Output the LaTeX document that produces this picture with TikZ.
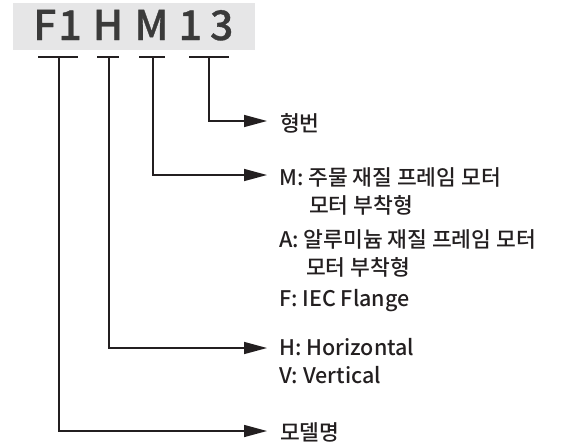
\documentclass[tikz,border=0pt]{standalone}
\usepackage{fontspec}
\setmainfont{Noto Sans CJK KR}
\newfontfamily\hdrfont{Noto Sans CJK KR Medium}[FakeBold=0.8]
\newfontfamily\bodyfont{Noto Sans CJK KR Medium}
\usetikzlibrary{arrows.meta}
\definecolor{boxgray}{HTML}{E6E6E7}
\definecolor{hdrgray}{HTML}{3A3A3A}
\definecolor{ink}{HTML}{231F20}
\begin{document}
\begin{tikzpicture}[x=1pt,y=-1pt,
  hdr/.style={font=\hdrfont\fontsize{41}{41}\selectfont, text=hdrgray, inner sep=0pt, anchor=base},
  lbl/.style={font=\bodyfont\fontsize{21.5}{25}\selectfont, text=ink, inner sep=0pt, anchor=base west},
  bar/.style={line width=1.5pt, draw=ink},
  lead/.style={line width=1.5pt, draw=ink, -{Triangle[length=23pt,width=12pt]}}]
\useasboundingbox (0,0) rectangle (561,445);

% code header on a grey band
\fill[boxgray] (13,3) rectangle (255,50);
\node[hdr] (f1)  at (57.5,40)  {F\kern2pt 1};
\node[hdr] (h)   at (108,40) {H};
\node[hdr] (m)   at (151.5,40) {M};
\node[hdr] (n13) at (206,40) {1\kern8pt 3};

% bars under each code group
\draw[bar] (38,57)  -- (78,57);
\draw[bar] (97,57)  -- (119,57);
\draw[bar] (139,57) -- (165,57);
\draw[bar] (189,57) -- (229,57);
\coordinate (tf1)  at (59,57);
\coordinate (th)   at (109,57);
\coordinate (tm)   at (153,57);
\coordinate (t13)  at (209,57);

% explanations
\node[lbl] (code)  at (280,131) {형번};
\node[lbl] (mm)    at (279,185) {M: 주물 재질 프레임 모터};
\node[lbl] (mm2)   at (309,213) {모터 부착형};
\node[lbl] (ma)    at (279,247) {A: 알루미늄 재질 프레임 모터};
\node[lbl] (ma2)   at (306,275) {모터 부착형};
\node[lbl] (mf)    at (279,306) {F: IEC Flange};
\node[lbl] (hh)    at (279,355) {H: Horizontal};
\node[lbl] (hv)    at (279,383) {V: Vertical};
\node[lbl] (model) at (280,440) {모델명};

% arrow tips in front of the labels
\coordinate (a13) at (267,121);
\coordinate (am)  at (267,175);
\coordinate (ah)  at (267,348);
\coordinate (af1) at (267,431);

% leaders
\draw[lead] (t13) |- (a13);
\draw[lead] (tm)  |- (am);
\draw[lead] (th)  |- (ah);
\draw[lead] (tf1) |- (af1);
\end{tikzpicture}
\end{document}
